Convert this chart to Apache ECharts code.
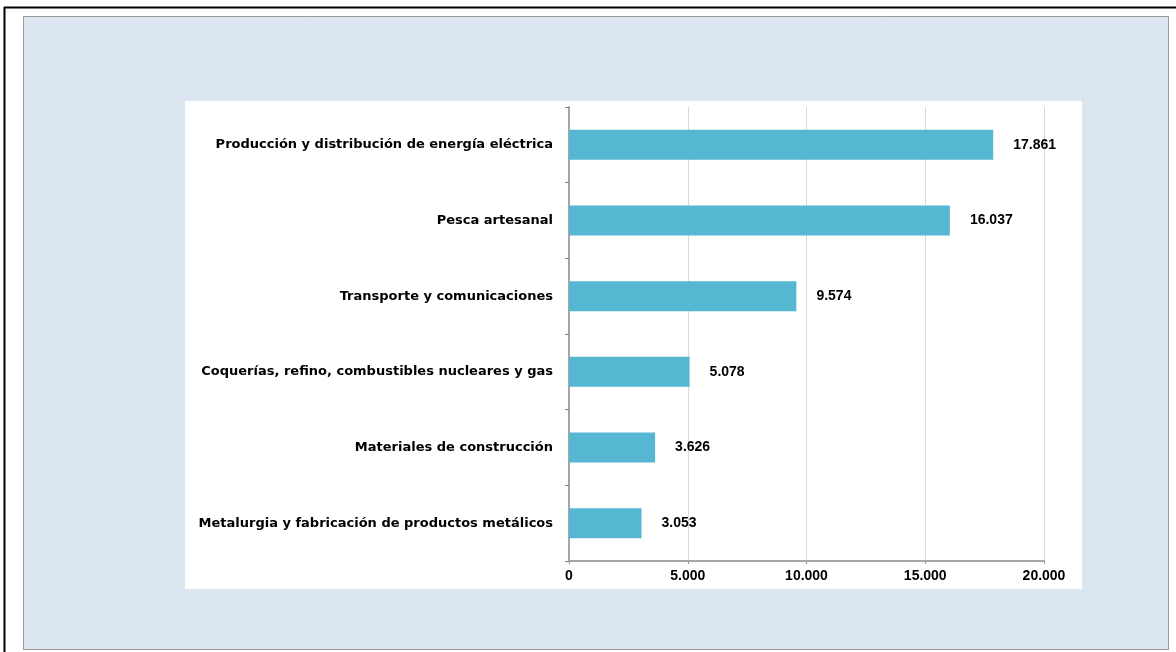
<!DOCTYPE html>
<html>
<head>
<meta charset="utf-8">
<script src="https://cdn.jsdelivr.net/npm/echarts@6/dist/echarts.min.js"></script>
<style>
html,body{margin:0;padding:0;background:#fff;}
#c{width:1176px;height:652px;}
</style>
</head>
<body>
<div id="c"></div>
<script>
var categories = [
  'Producción y distribución de energía eléctrica',
  'Pesca artesanal',
  'Transporte y comunicaciones',
  'Coquerías, refino, combustibles nucleares y gas',
  'Materiales de construcción',
  'Metalurgia y fabricación de productos metálicos'
];
var values = [17861, 16037, 9574, 5078, 3626, 3053];
var xTicks = [0, 5000, 10000, 15000, 20000];

function fmt(v){
  return String(Math.round(v)).replace(/\B(?=(\d{3})+(?!\d))/g, '.');
}

var chart = echarts.init(document.getElementById('c'), null, {renderer:'canvas'});
var font = 'Liberation Sans, Arial, sans-serif';
var catFont = 'DejaVu Sans, sans-serif';
chart.setOption({
  animation:false,
  backgroundColor:'#ffffff',
  graphic:[
    {type:'line', shape:{x1:4.5,y1:7,x2:4.5,y2:652}, style:{stroke:'#000',lineWidth:2}, z:-10},
    {type:'line', shape:{x1:4,y1:7.5,x2:1176,y2:7.5}, style:{stroke:'#000',lineWidth:2}, z:-10},
    {type:'rect', shape:{x:23.5,y:16.5,width:1145,height:633}, style:{fill:'#dce6f1',stroke:'#999999',lineWidth:1}, z:-10},
    {type:'rect', shape:{x:185,y:101,width:897,height:488}, style:{fill:'#ffffff'}, z:-9}
  ],
  grid:{left:569, top:107, width:475, height:454, containLabel:false},
  xAxis:{
    type:'value', min:xTicks[0], max:xTicks[xTicks.length-1], interval:xTicks[1]-xTicks[0],
    axisLine:{show:true, lineStyle:{color:'#a6a6a6', width:2}},
    axisTick:{show:true, length:3, lineStyle:{color:'#999999'}},
    splitLine:{show:true, lineStyle:{color:'#d9d9d9', width:1}},
    axisLabel:{color:'#000', fontFamily:font, fontWeight:'bold', fontSize:14, margin:8,
      formatter:function(v){return fmt(v);}}
  },
  yAxis:{
    type:'category', data:categories, inverse:true,
    axisLine:{show:true, lineStyle:{color:'#a6a6a6', width:2}},
    axisTick:{show:true, length:4, lineStyle:{color:'#808080'}},
    axisLabel:{color:'#000', fontFamily:catFont, fontWeight:'bold', fontSize:13, margin:16,
      padding:[3,0,0,0]}
  },
  series:[{
    type:'bar', data:values, barWidth:30,
    itemStyle:{color:'#55b7d1'},
    label:{show:true, position:'right', distance:20, color:'#000', fontFamily:font,
      fontWeight:'bold', fontSize:14, padding:[3,0,0,0], formatter:function(p){return fmt(p.value);}}
  }]
});
</script>
</body>
</html>
